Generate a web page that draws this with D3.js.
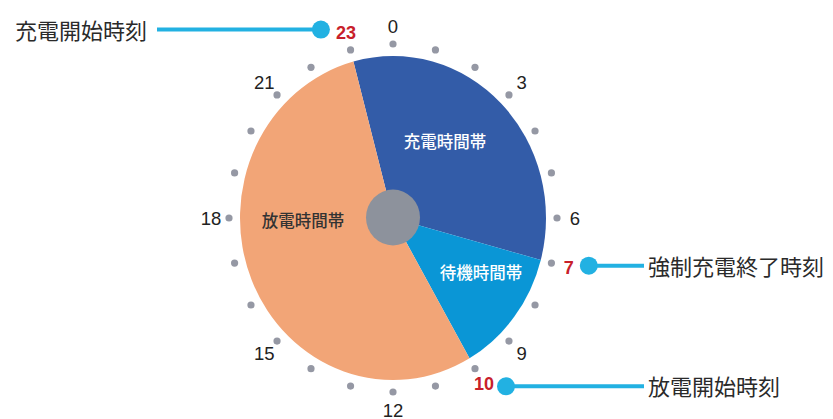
<!DOCTYPE html>
<html>
<head>
<meta charset="utf-8">
<script src="https://cdn.jsdelivr.net/npm/d3@7"></script>
<style>
  html, body { margin: 0; padding: 0; background: #fff; }
  svg { display: block; }
</style>
</head>
<body>
<svg id="chart" width="833" height="419"></svg>
<script>
// ---- data ----
const hourCount = 24;
const hourTicks = [0, 1, 2, 3, 4, 5, 6, 7, 8, 9, 10, 11, 12, 13, 14, 15, 16, 17, 18, 19, 20, 21, 22, 23];
const hourLabels = [0, 3, 6, 9, 12, 15, 18, 21];
const segmentNames = ["充電時間帯", "待機時間帯", "放電時間帯"];
const segmentHours = [8, 3, 13];
const segmentStart = 23;
const markerHours = [23, 7, 10];
const markerNames = ["充電開始時刻", "強制充電終了時刻", "放電開始時刻"];

// ---- layout ----
const svg = d3.select("#chart");
const cx = 393, cy = 218;
const pieRx = 153, pieRy = 162;
const dotRx = 164, dotRy = 174;
const labRx = 182, labRy = 192;
const segColors = ["#335ca8", "#0a96d6", "#f2a577"];
const segTextColors = ["#ffffff", "#ffffff", "#333333"];
const segLabelPos = [[445, 141], [481, 272], [303, 220]];

const angle = d3.scaleLinear().domain([0, hourCount]).range([0, 2 * Math.PI]);
const px = (h, rx) => cx + rx * Math.sin(angle(h));
const py = (h, ry) => cy - ry * Math.cos(angle(h));

// pie (ellipse via scaled circle)
const pie = d3.pie().sort(null).value(d => d)
  .startAngle(angle(segmentStart) - 2 * Math.PI)
  .endAngle(angle(segmentStart));
const arc = d3.arc().innerRadius(0).outerRadius(pieRy);
const g = svg.append("g").attr("transform", `translate(${cx},${cy}) scale(${pieRx / pieRy},1)`);
g.selectAll("path").data(pie(segmentHours)).join("path")
  .attr("d", arc)
  .attr("fill", (d, i) => segColors[i]);

// center hub
svg.append("ellipse").attr("cx", cx).attr("cy", cy - 0.5).attr("rx", 27).attr("ry", 28).attr("fill", "#8d929c");

// segment labels
svg.selectAll("text.seg").data(segmentNames).join("text")
  .attr("class", "seg")
  .attr("x", (d, i) => segLabelPos[i][0])
  .attr("y", (d, i) => segLabelPos[i][1])
  .attr("text-anchor", "middle").attr("dominant-baseline", "central")
  .attr("font-family", "'Noto Sans CJK JP', sans-serif")
  .attr("font-weight", 500)
  .attr("font-size", 16.5)
  .attr("fill", (d, i) => segTextColors[i])
  .text(d => d);

// hour dots
svg.selectAll("circle.tick").data(hourTicks).join("circle")
  .attr("class", "tick")
  .attr("cx", h => px(h, dotRx)).attr("cy", h => py(h, dotRy))
  .attr("r", 3.6).attr("fill", "#9598a4");

// hour labels
svg.selectAll("text.hour").data(hourLabels).join("text")
  .attr("class", "hour")
  .attr("x", h => px(h, labRx)).attr("y", h => py(h, labRy))
  .attr("text-anchor", "middle").attr("dominant-baseline", "central")
  .attr("font-family", "'Liberation Sans', Arial, sans-serif")
  .attr("font-size", 18.5).attr("fill", "#222")
  .text(h => h);

// marker labels (red)
svg.selectAll("text.mark").data(markerHours).join("text")
  .attr("class", "mark")
  .attr("x", h => px(h, labRx)).attr("y", h => py(h, labRy))
  .attr("text-anchor", "middle").attr("dominant-baseline", "central")
  .attr("font-family", "'Liberation Sans', Arial, sans-serif")
  .attr("font-weight", "bold")
  .attr("font-size", 18).attr("fill", "#c8202a")
  .text(h => h);

// callouts
const callouts = [
  { dotDx: -25, dotDy: -3, textX: 147, side: "left" },
  { dotDx: 20, dotDy: -2, textX: 648, side: "right" },
  { dotDx: 22, dotDy: 2, textX: 648, side: "right" }
];
markerHours.forEach((h, i) => {
  const c = callouts[i];
  const dx = px(h, labRx) + c.dotDx, dy = py(h, labRy) + c.dotDy;
  const lineEnd = c.side === "left" ? c.textX + 10 : c.textX - 4;
  svg.append("line").attr("x1", dx).attr("y1", dy).attr("x2", lineEnd).attr("y2", dy)
    .attr("stroke", "#22b1e2").attr("stroke-width", 4);
  svg.append("circle").attr("cx", dx).attr("cy", dy).attr("r", 9).attr("fill", "#22b1e2");
  svg.append("text").attr("x", c.textX).attr("y", dy - 1)
    .attr("text-anchor", c.side === "left" ? "end" : "start")
    .attr("dominant-baseline", "central")
    .attr("font-family", "'Noto Sans CJK JP', sans-serif")
    .attr("font-size", 22).attr("fill", "#2a2a2a")
    .text(markerNames[i]);
});
</script>
</body>
</html>
